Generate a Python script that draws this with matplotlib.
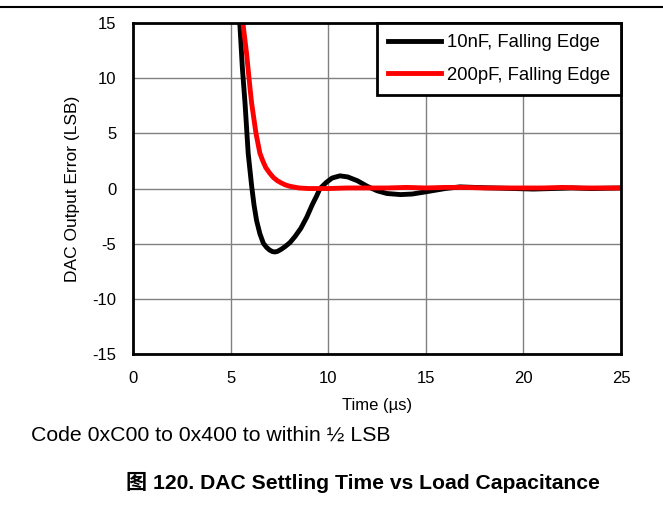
import matplotlib.pyplot as plt
from matplotlib.lines import Line2D

# 10nF, falling edge
t_10n = [5.3, 5.48, 5.6, 5.74, 5.9, 6.08, 6.2, 6.33, 6.5, 6.68, 6.85, 7.0, 7.15,
         7.27, 7.4, 7.6, 7.8, 8.04, 8.3, 8.6, 8.9, 9.2, 9.4, 9.58, 9.9, 10.2,
         10.6, 11.0, 11.5, 12.0, 12.5, 13.0, 13.7, 14.3, 15.0, 15.5, 16.0,
         16.75, 17.5, 18.5, 19.5, 20.5, 21.5, 22.5, 23.5, 25.0]
err_10n = [18, 14.7, 11.0, 7.7, 3.2, 0.2, -1.5, -2.9, -4.1, -4.97, -5.35, -5.58,
           -5.72, -5.75, -5.7, -5.5, -5.25, -4.9, -4.35, -3.6, -2.6, -1.4, -0.7,
           0.0, 0.55, 0.95, 1.15, 1.05, 0.7, 0.2, -0.2, -0.45, -0.55, -0.5,
           -0.3, -0.15, 0.0, 0.15, 0.1, 0.05, 0.0, -0.05, 0.0, 0.05, 0.0, 0.05]

# 200pF, falling edge
t_200p = [5.5, 5.65, 5.82, 6.0, 6.08, 6.3, 6.5, 6.65, 6.8, 7.0, 7.19, 7.4, 7.6,
          7.8, 8.04, 8.5, 9.0, 10.0, 11.0, 12.0, 13.0, 14.0, 15.0, 16.0, 17.0,
          18.0, 19.0, 20.0, 21.0, 22.0, 23.0, 24.0, 25.0]
err_200p = [17, 14.7, 12.2, 9.0, 7.7, 5.0, 3.2, 2.5, 1.9, 1.4, 1.0, 0.7, 0.5,
            0.33, 0.2, 0.05, 0.0, 0.0, 0.05, 0.05, 0.05, 0.1, 0.05, 0.1, 0.1,
            0.05, 0.05, 0.05, 0.05, 0.1, 0.05, 0.05, 0.05]

xticks = [0, 5, 10, 15, 20, 25]
yticks = [-15, -10, -5, 0, 5, 10, 15]

plt.rcParams['font.family'] = ['Liberation Sans', 'Noto Sans CJK SC']
plt.rcParams['axes.unicode_minus'] = False

fig = plt.figure(figsize=(6.63, 5.08), dpi=100)
ax = fig.add_axes([0.2006, 0.3031, 0.7361, 0.6516])

ax.plot(t_10n, err_10n, color="black", lw=3.5, label="10nF, Falling Edge")
ax.plot(t_200p, err_200p, color="#ff0000", lw=3.5, label="200pF, Falling Edge")

ax.set_xlim(0, 25)
ax.set_ylim(-15, 15)
ax.set_xticks(xticks)
ax.set_yticks(yticks)
ax.tick_params(length=0, labelsize=12, pad=12)
ax.grid(True, color="#808080", lw=1)
for s in ax.spines.values():
    s.set_linewidth(2)
ax.set_xlabel("Time (µs)", fontsize=12, labelpad=9)
ax.set_ylabel("DAC Output Error (LSB)", fontsize=12.5, labelpad=9)

leg = ax.legend(loc="upper right", borderaxespad=0, fontsize=13.3, fancybox=False,
                framealpha=1, edgecolor="black", handlelength=2.9,
                handletextpad=0.3, labelspacing=0.85, borderpad=0.6)
leg.get_frame().set_linewidth(2)

fig.add_artist(Line2D([0, 1], [1 - 7 / 508, 1 - 7 / 508], color="black", lw=1.5))
fig.text(31 / 663, 1 - 435 / 508, "Code 0xC00 to 0x400 to within ½ LSB",
         fontsize=15.3, va="center")
fig.text(363 / 663, 1 - 482 / 508, "图 120. DAC Settling Time vs Load Capacitance",
         fontsize=15.2, fontweight="bold", ha="center", va="center")

fig.savefig("out.png", dpi=100)
